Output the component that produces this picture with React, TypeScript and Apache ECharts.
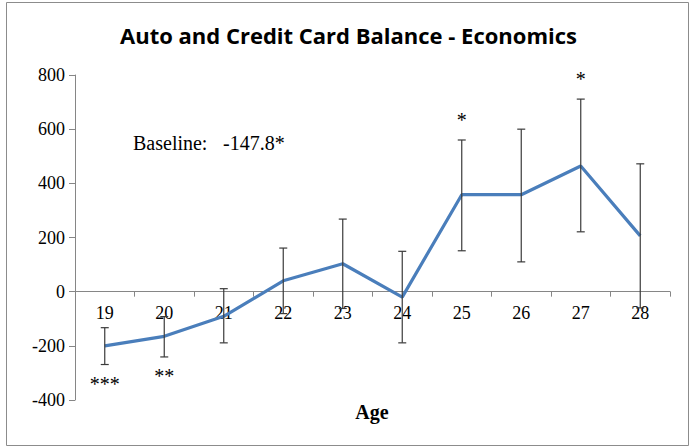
import React, { useEffect, useRef } from "react";
import * as echarts from "echarts";

// Ages on the category axis
const ages = ["19", "20", "21", "22", "23", "24", "25", "26", "27", "28"];
// Estimated balance difference by age
const estimates = [-200, -165, -91, 40, 103, -20, 358, 358, 464, 206];
// Lower and upper ends of the error bars
const lowerBounds = [-269, -241, -189, -81, -62, -189, 151, 110, 221, -60];
const upperBounds = [-133, -92, 11, 161, 268, 149, 560, 600, 711, 472];
// Significance stars per age
const stars = ["***", "**", "", "", "", "", "*", "", "*", ""];
// Value axis ticks
const yMin = -400;
const yMax = 800;
const yStep = 200;

const serif = "'Liberation Serif', 'Times New Roman', serif";

const W = 697;
const H = 447;
const gridTop = 75;
const gridBottom = 47;
const plotHeight = H - gridTop - gridBottom;
// Lift the category axis (line, ticks, labels) onto the zero line
const zeroOffset = -((0 - yMin) / (yMax - yMin)) * plotHeight;

export default function App() {
  const ref = useRef<HTMLDivElement>(null);

  useEffect(() => {
    document.body.style.margin = "0";
    if (!ref.current) return;
    const chart = echarts.init(ref.current, undefined, { renderer: "svg" });

    const errorData = ages.map((_, i) => [i, lowerBounds[i], upperBounds[i], estimates[i]]);

    chart.setOption({
      animation: false,
      backgroundColor: "#ffffff",
      title: {
        text: "Auto and Credit Card Balance - Economics",
        left: "center",
        top: 19,
        textStyle: {
          fontFamily: "'Open Sans', sans-serif",
          fontWeight: "bold",
          fontSize: 22,
          color: "#000000",
        },
      },
      grid: { left: 75, right: 27, top: gridTop, bottom: gridBottom },
      xAxis: {
        type: "category",
        data: ages,
        boundaryGap: true,
        position: "bottom",
        offset: zeroOffset,
        axisLine: { onZero: false, lineStyle: { color: "#868686", width: 1 } },
        axisTick: { show: true, length: 5, lineStyle: { color: "#868686" } },
        axisLabel: {
          margin: 12,
          fontFamily: serif,
          fontSize: 18,
          color: "#000000",
        },
        splitLine: { show: false },
      },
      yAxis: {
        type: "value",
        min: yMin,
        max: yMax,
        interval: yStep,
        axisLine: { show: true, lineStyle: { color: "#868686", width: 1 } },
        axisTick: { show: true, length: 6, lineStyle: { color: "#868686" } },
        axisLabel: {
          margin: 10,
          fontFamily: serif,
          fontSize: 18,
          color: "#000000",
        },
        splitLine: { show: false },
      },
      graphic: [
        {
          type: "rect",
          shape: { x: 6.5, y: 2.5, width: 682, height: 443 },
          style: { fill: "none", stroke: "#8c8c8c", lineWidth: 1 },
          silent: true,
        },
        {
          type: "text",
          x: 133,
          y: 143,
          style: {
            text: "Baseline:",
            font: `20px ${serif}`,
            fill: "#000000",
            verticalAlign: "middle",
          },
        },
        {
          type: "text",
          x: 223,
          y: 143,
          style: {
            text: "-147.8*",
            font: `20px ${serif}`,
            fill: "#000000",
            verticalAlign: "middle",
          },
        },
        {
          type: "text",
          x: 372,
          y: 412,
          style: {
            text: "Age",
            font: `bold 20px ${serif}`,
            fill: "#000000",
            align: "center",
            verticalAlign: "middle",
          },
        },
      ],
      series: [
        {
          type: "custom",
          data: errorData,
          z: 3,
          renderItem: (params: any, api: any) => {
            const i = api.value(0);
            const lo = api.coord([i, api.value(1)]);
            const hi = api.coord([i, api.value(2)]);
            const mid = api.value(3);
            const cap = 4;
            const stroke = { stroke: "#3a3a3a", lineWidth: 1.2 };
            const children: any[] = [
              { type: "line", shape: { x1: hi[0], y1: hi[1], x2: lo[0], y2: lo[1] }, style: stroke },
              { type: "line", shape: { x1: hi[0] - cap, y1: hi[1], x2: hi[0] + cap, y2: hi[1] }, style: stroke },
              { type: "line", shape: { x1: lo[0] - cap, y1: lo[1], x2: lo[0] + cap, y2: lo[1] }, style: stroke },
            ];
            const s = stars[params.dataIndex];
            if (s) {
              const below = mid < 0;
              children.push({
                type: "text",
                x: hi[0],
                y: below ? lo[1] + 19 : hi[1] - 20,
                style: {
                  text: s,
                  font: `20px ${serif}`,
                  fill: "#000000",
                  align: "center",
                  verticalAlign: "middle",
                },
              });
            }
            return { type: "group", children };
          },
        },
        {
          type: "line",
          data: estimates,
          symbol: "none",
          z: 2,
          lineStyle: { color: "#4A7EBB", width: 3.2 },
        },
      ],
    });

    return () => chart.dispose();
  }, []);

  return <div ref={ref} style={{ width: W, height: H }} />;
}
